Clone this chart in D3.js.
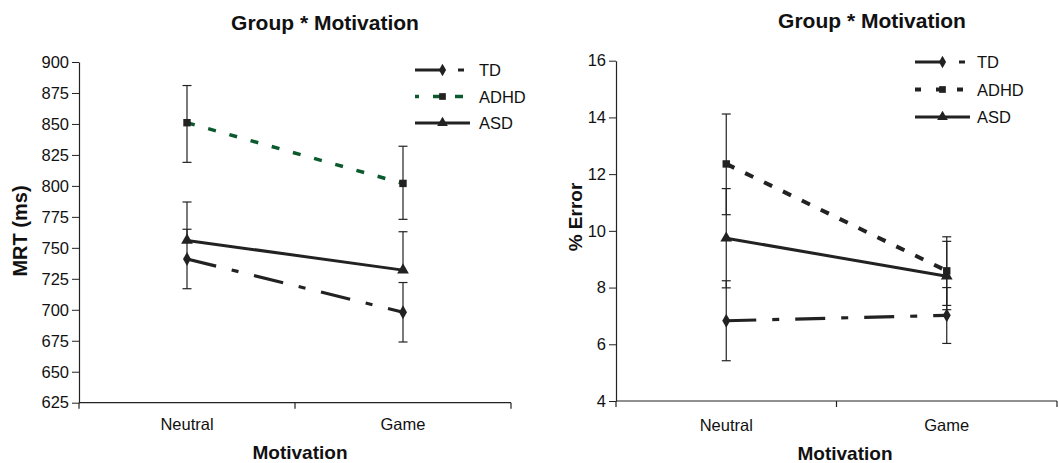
<!DOCTYPE html>
<html><head><meta charset="utf-8">
<script src="https://cdn.jsdelivr.net/npm/d3@7"></script>
<style>body{margin:0;background:#fff}svg{display:block}text{font-family:"Liberation Sans",Arial,sans-serif;fill:#111}</style>
</head><body><svg id="c" width="1059" height="463"></svg>
<script>
// ---- data ----
const categories = ["Neutral","Game"];
const groups = ["TD","ADHD","ASD"];
// Left panel: MRT (ms)
const mrtTD = [741, 698];
const mrtTDLo = [717, 674];
const mrtTDHi = [765, 722];
const mrtADHD = [851, 802];
const mrtADHDLo = [819, 773];
const mrtADHDHi = [881, 832];
const mrtASD = [756, 732];
const mrtASDLo = [756, 732];
const mrtASDHi = [787, 763];
const mrtTicks = [625,650,675,700,725,750,775,800,825,850,875,900];
// Right panel: % Error
const errTD = [6.83, 7.02];
const errTDLo = [5.42, 6.03];
const errTDHi = [8.24, 8.0];
const errADHD = [12.36, 8.59];
const errADHDLo = [10.57, 7.37];
const errADHDHi = [14.12, 9.79];
const errASD = [9.74, 8.40];
const errASDLo = [7.99, 7.22];
const errASDHi = [11.49, 9.63];
const errTicks = [4,6,8,10,12,14,16];

const svg = d3.select("#c");
const FONT = "'Liberation Sans',Arial,sans-serif";

function panel(o){
  const g = svg.append("g");
  const x = d3.scaleBand().domain(categories).range([o.x0, o.x1]);
  const y = d3.scaleLinear().domain(o.domain).range([o.yb, o.yt]);
  // y axis
  const ya = g.append("g").attr("transform",`translate(${o.x0},0)`)
    .call(d3.axisLeft(y).tickValues(o.ticks).tickSize(7).tickSizeOuter(0).tickPadding(3));
  ya.attr("font-size",null).attr("font-family",null);
  ya.select(".domain").attr("stroke","#222").attr("stroke-width",1.2);
  ya.selectAll(".tick line").attr("stroke","#222");
  ya.selectAll("text").style("font-size","16.5px").style("font-family",FONT).attr("fill","#111");
  // x axis
  const xa = g.append("g").attr("transform",`translate(0,${o.yb})`);
  xa.append("line").attr("x1",o.x0).attr("x2",o.x1).attr("stroke","#222").attr("stroke-width",1.2);
  const bounds = [o.x0, (o.x0+o.x1)/2, o.x1];
  xa.selectAll("line.t").data(bounds).join("line").attr("class","t")
    .attr("x1",d=>d).attr("x2",d=>d).attr("y1",0).attr("y2",6).attr("stroke","#222").attr("stroke-width",1.2);
  xa.selectAll("text").data(categories).join("text")
    .attr("x",d=>x(d)+x.bandwidth()/2).attr("y",o.tickLabelY-o.yb).attr("text-anchor","middle").style("font-size","16.5px").text(d=>d);
  // titles
  g.append("text").attr("x",o.titleX).attr("y",o.titleY).attr("text-anchor","middle").attr("font-weight","bold").style("font-size","21px").text("Group * Motivation");
  g.append("text").attr("x",o.xlabX).attr("y",o.xlabY).attr("text-anchor","middle").attr("font-weight","bold").style("font-size","19px").text("Motivation");
  g.append("text").attr("transform",`translate(${o.ylabX},${o.ylabY}) rotate(-90)`).attr("text-anchor","middle").attr("font-weight","bold").style("font-size",o.ylabSize+"px").text(o.ylab);

  const cx = c => x(c)+x.bandwidth()/2;
  // error bars
  o.series.forEach(s=>{
    categories.forEach((c,i)=>{
      const X = cx(c);
      g.append("line").attr("x1",X).attr("x2",X).attr("y1",y(s.lo[i])).attr("y2",y(s.hi[i])).attr("stroke","#222").attr("stroke-width",1.2);
      [s.lo[i], s.hi[i]].forEach(v=>{ if(v!==s.v[i]) g.append("line").attr("x1",X-4.5).attr("x2",X+4.5).attr("y1",y(v)).attr("y2",y(v)).attr("stroke","#222").attr("stroke-width",1.2);});
    });
  });
  // lines
  const line = d3.line().x((d,i)=>cx(categories[i])).y(d=>y(d));
  o.series.forEach(s=>{
    g.append("path").datum(s.v).attr("d",line).attr("fill","none").attr("stroke",s.color)
      .attr("stroke-width",s.w).attr("stroke-dasharray",s.dash||null);
  });
  // markers
  const sym = {diamond:d3.symbolDiamond, square:d3.symbolSquare, triangle:d3.symbolTriangle};
  o.series.forEach(s=>{
    s.v.forEach((v,i)=>{
      g.append("path").attr("d",d3.symbol().type(sym[s.marker]).size(s.marker==="triangle"?60:55)())
        .attr("transform",`translate(${cx(categories[i])},${y(v)})`).attr("fill","#222");
    });
  });
  // legend
  o.series.forEach((s,k)=>{
    const ly = o.legY + k*o.legStep;
    g.append("line").attr("x1",o.legX0).attr("x2",o.legX1).attr("y1",ly).attr("y2",ly)
      .attr("stroke",s.color).attr("stroke-width",s.w).attr("stroke-dasharray",s.legDash||null).attr("stroke-dashoffset",s.legOff||0);
    const mx = o.legX0 + (o.legX1-o.legX0)*0.5;
    g.append("path").attr("d",d3.symbol().type(sym[s.marker]).size(s.marker==="triangle"?50:45)())
      .attr("transform",`translate(${mx},${ly})`).attr("fill","#222");
    g.append("text").attr("x",o.legTextX).attr("y",ly+6).style("font-size","16.5px").text(s.name);
  });
}

panel({
  x0:79, x1:511, yb:402.7, yt:62, domain:[625,900], ticks:mrtTicks,
  tickLabelY:430, titleX:325, titleY:30, xlabX:300, xlabY:459, ylabX:27, ylabY:231, ylab:"MRT (ms)", ylabSize:20,
  legX0:415, legX1:470, legY:70, legStep:26.5, legTextX:479,
  series:[
    {name:groups[0], v:mrtTD, lo:mrtTDLo, hi:mrtTDHi, color:"#222", w:3.2, dash:"30,16,7,16", marker:"diamond", legDash:"30,13,6,20"},
    {name:groups[1], v:mrtADHD, lo:mrtADHDLo, hi:mrtADHDHi, color:"#0b5a2e", w:3.5, dash:"8,14", marker:"square", legDash:"8,14", legOff:-18},
    {name:groups[2], v:mrtASD, lo:mrtASDLo, hi:mrtASDHi, color:"#222", w:3, dash:null, marker:"triangle"}
  ]
});
panel({
  x0:616, x1:1057, yb:401, yt:60.7, domain:[4,16], ticks:errTicks,
  tickLabelY:431, titleX:872, titleY:28, xlabX:845, xlabY:460, ylabX:582, ylabY:217, ylab:"% Error", ylabSize:19,
  legX0:915, legX1:970, legY:62, legStep:27.5, legTextX:977,
  series:[
    {name:groups[0], v:errTD, lo:errTDLo, hi:errTDHi, color:"#222", w:3.2, dash:"30,16,7,16", marker:"diamond", legDash:"30,14,6,20"},
    {name:groups[1], v:errADHD, lo:errADHDLo, hi:errADHDHi, color:"#222", w:4, dash:"9,12", marker:"square", legDash:"6,15", legOff:0},
    {name:groups[2], v:errASD, lo:errASDLo, hi:errASDHi, color:"#222", w:3, dash:null, marker:"triangle"}
  ]
});
</script></body></html>
